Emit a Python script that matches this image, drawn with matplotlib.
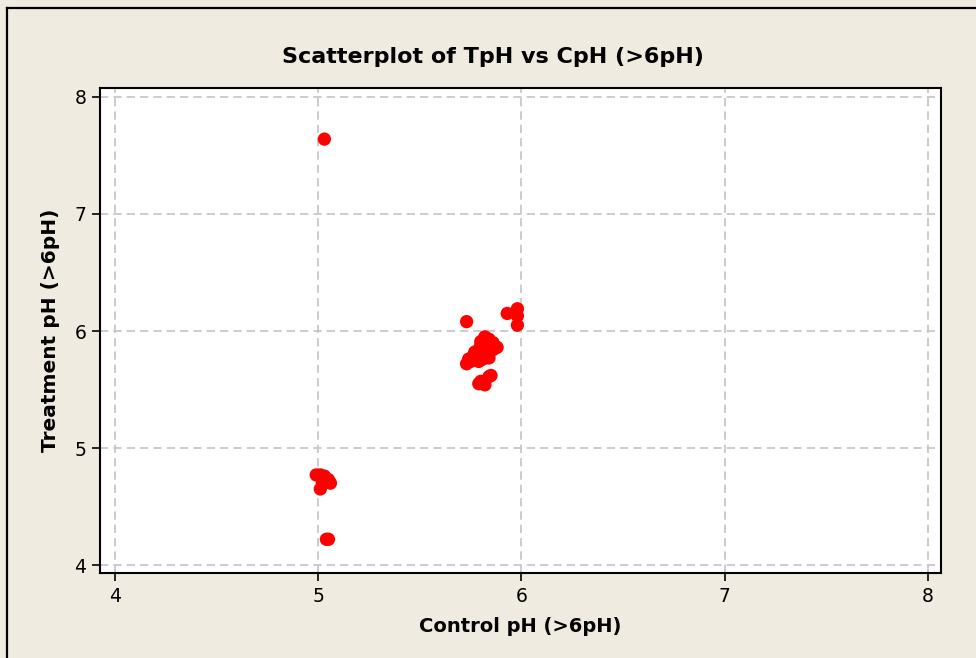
import numpy as np
import matplotlib.pyplot as plt
from matplotlib.lines import Line2D

# Control vs treatment pH readings
control_ph = [
    5.03,
    4.99, 5.01, 5.03, 5.05, 5.06, 5.02, 5.01, 5.04,
    5.04, 5.05,
    5.73, 5.93, 5.98, 5.98, 5.98,
    5.82, 5.84, 5.86, 5.88, 5.85, 5.80, 5.83, 5.79, 5.81, 5.78,
    5.76, 5.74, 5.73, 5.75, 5.77, 5.80, 5.82, 5.84, 5.79, 5.81,
    5.83, 5.86, 5.82, 5.77, 5.84, 5.80,
    5.80, 5.82, 5.84, 5.85, 5.79,
]
treatment_ph = [
    7.64,
    4.77, 4.77, 4.76, 4.73, 4.70, 4.70, 4.65, 4.72,
    4.22, 4.22,
    6.08, 6.15, 6.19, 6.13, 6.05,
    5.95, 5.93, 5.90, 5.86, 5.88, 5.88, 5.85, 5.84, 5.82, 5.80,
    5.78, 5.76, 5.72, 5.74, 5.76, 5.78, 5.80, 5.82, 5.74, 5.76,
    5.78, 5.84, 5.86, 5.82, 5.77, 5.91,
    5.57, 5.54, 5.61, 5.62, 5.55,
]
ticks = [4, 5, 6, 7, 8]

bg = '#efebe1'
fig = plt.figure(figsize=(9.76, 6.58), dpi=100, facecolor=bg)
ax = fig.add_axes([0.1025, 0.1292, 0.964 - 0.1025, 0.8663 - 0.1292])
ax.set_facecolor('white')

ax.scatter(control_ph, treatment_ph, s=92, color='#ff0000', edgecolors='none', zorder=3)

ax.set_xlim(3.926, 8.064)
ax.set_ylim(3.932, 8.077)
ax.set_xticks(ticks)
ax.set_yticks(ticks)
ax.tick_params(direction='out', length=6, width=1.2, color='black', labelsize=13.5, pad=4)
for spine in ax.spines.values():
    spine.set_linewidth(1.5)
    spine.set_color('black')
ax.grid(True, color='#c4c4c4', linestyle=(0, (5, 3)), linewidth=1.2)
ax.set_axisbelow(True)

ax.set_xlabel('Control pH (>6pH)', fontsize=14, fontweight='bold', labelpad=8)
ax.set_ylabel('Treatment pH (>6pH)', fontsize=14.5, fontweight='bold', labelpad=10)
fig.text(0.505, 0.913, 'Scatterplot of TpH vs CpH (>6pH)', ha='center', va='center',
         fontsize=16, fontweight='bold')

# frame lines along the top and left of the figure
fig.add_artist(Line2D([7 / 976, 1], [0.988, 0.988], color='black', lw=1.6,
                      transform=fig.transFigure))
fig.add_artist(Line2D([7 / 976, 7 / 976], [0, 0.988], color='black', lw=1.6,
                      transform=fig.transFigure))

fig.savefig('out.png', dpi=100, facecolor=bg)
